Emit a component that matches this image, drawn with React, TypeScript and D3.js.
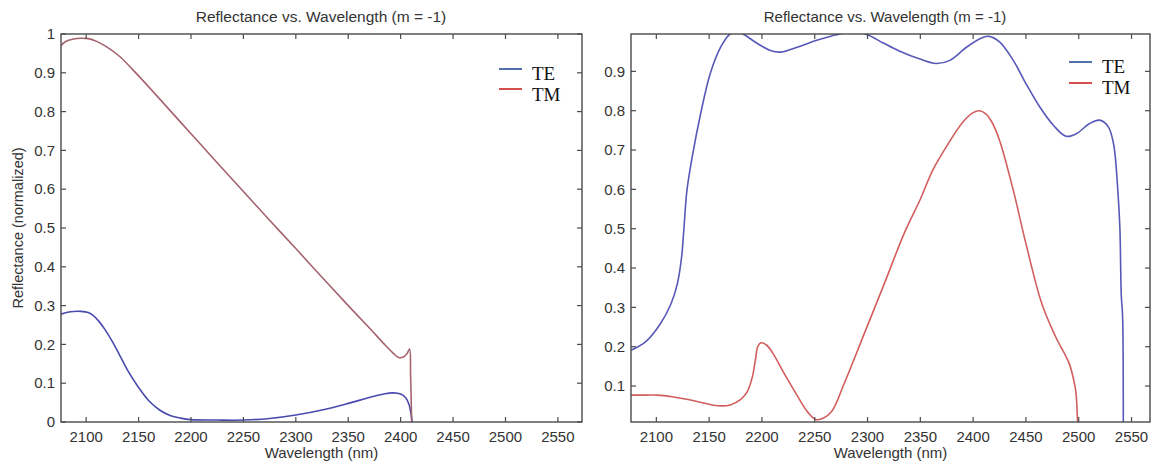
import React from "react";
import * as d3 from "d3";

// ---------- data ----------
const titleText = "Reflectance vs. Wavelength (m = -1)";
const xLabelText = "Wavelength (nm)";
const yLabelText = "Reflectance (normalized)";
const seriesNames = ["TE", "TM"];
const xTicks = [2100, 2150, 2200, 2250, 2300, 2350, 2400, 2450, 2500, 2550];
const leftYTicks = [0, 0.1, 0.2, 0.3, 0.4, 0.5, 0.6, 0.7, 0.8, 0.9, 1];
const rightYTicks = [0.1, 0.2, 0.3, 0.4, 0.5, 0.6, 0.7, 0.8, 0.9];

// Left panel
const leftTM_wl = [2076, 2080, 2088, 2095, 2102, 2110, 2120, 2132, 2150, 2175, 2200, 2225, 2250, 2275, 2300, 2325, 2350, 2370, 2385, 2393, 2398, 2403, 2406, 2408.5, 2409.5, 2410.5];
const leftTM_R = [0.970, 0.980, 0.987, 0.989, 0.988, 0.981, 0.966, 0.942, 0.892, 0.818, 0.743, 0.668, 0.594, 0.520, 0.447, 0.373, 0.300, 0.243, 0.199, 0.177, 0.166, 0.168, 0.176, 0.188, 0.12, 0.0];
const leftTE_wl = [2076, 2085, 2095, 2102, 2106, 2112, 2118, 2125, 2132, 2140, 2150, 2160, 2170, 2180, 2190, 2200, 2225, 2250, 2275, 2300, 2325, 2350, 2370, 2385, 2393, 2400, 2405, 2408, 2410, 2411];
const leftTE_R = [0.278, 0.284, 0.285, 0.282, 0.276, 0.260, 0.238, 0.207, 0.172, 0.131, 0.089, 0.054, 0.031, 0.017, 0.010, 0.006, 0.005, 0.005, 0.009, 0.018, 0.031, 0.048, 0.063, 0.073, 0.075, 0.072, 0.062, 0.045, 0.02, 0.0];

// Right panel
const rightTE_wl = [2076, 2090, 2104, 2114, 2120, 2124, 2126, 2129, 2134, 2142, 2151, 2161, 2169, 2175, 2182, 2195, 2208, 2218, 2234, 2252, 2266, 2275, 2290, 2300, 2315, 2330, 2349, 2365, 2378, 2394, 2409, 2415, 2425, 2438, 2450, 2463, 2476, 2488, 2498, 2510, 2520, 2528, 2533, 2537, 2539, 2540.3, 2541.5, 2542.2];
const rightTE_R = [0.191, 0.213, 0.259, 0.31, 0.361, 0.43, 0.496, 0.598, 0.683, 0.793, 0.894, 0.962, 0.993, 1.0, 0.995, 0.972, 0.953, 0.949, 0.962, 0.979, 0.99, 0.996, 1.0, 0.993, 0.972, 0.952, 0.932, 0.92, 0.928, 0.962, 0.986, 0.989, 0.975, 0.928, 0.869, 0.81, 0.763, 0.735, 0.742, 0.767, 0.776, 0.759, 0.716, 0.598, 0.5, 0.33, 0.28, 0.0];
const rightTM_wl = [2076, 2090, 2101, 2115, 2130, 2145, 2158, 2170, 2180, 2186, 2191, 2194, 2196, 2199, 2204, 2210, 2221, 2234, 2243, 2251, 2258, 2266, 2278, 2297, 2316, 2335, 2350, 2362, 2375, 2390, 2400, 2406, 2412, 2418, 2425, 2438, 2450, 2465, 2478, 2491, 2496, 2497.5, 2499];
const rightTM_R = [0.077, 0.077, 0.077, 0.073, 0.066, 0.057, 0.050, 0.052, 0.066, 0.085, 0.124, 0.17, 0.2, 0.21, 0.205, 0.185, 0.132, 0.073, 0.035, 0.015, 0.018, 0.035, 0.107, 0.234, 0.361, 0.49, 0.575, 0.65, 0.71, 0.77, 0.795, 0.80, 0.792, 0.77, 0.725, 0.598, 0.462, 0.31, 0.226, 0.157, 0.106, 0.08, 0.0];

// ---------- styling ----------
const W = 1152;
const H = 465;
const axisColor = "#4a4a4a";
const textColor = "#333333";
const sans = "Arial, 'Liberation Sans', sans-serif";
const serif = "'Times New Roman', 'Liberation Serif', serif";

type Panel = {
  id: string;
  x0: number; x1: number; y0: number; y1: number;
  xDomain: [number, number];
  yDomain: [number, number];
  yTicks: number[];
  yLabel: boolean;
  series: { wl: number[]; r: number[]; color: string }[];
  legendX: number; legendY: number[]; legendTextY: number[];
  titleX: number; titleSize: number;
};

const panels: Panel[] = [
  {
    id: "L",
    x0: 61, x1: 582, y0: 34, y1: 422,
    xDomain: [2076, 2573],
    yDomain: [0, 1],
    yTicks: leftYTicks,
    yLabel: true,
    series: [
      { wl: leftTE_wl, r: leftTE_R, color: "#4a4aae" },
      { wl: leftTM_wl, r: leftTM_R, color: "#a5636e" },
    ],
    legendX: 499, legendY: [69, 89], legendTextY: [80, 101],
    titleX: 321, titleSize: 15.5,
  },
  {
    id: "R",
    x0: 631, x1: 1150, y0: 34, y1: 422,
    xDomain: [2076, 2567.5],
    yDomain: [0.0086, 0.995],
    yTicks: rightYTicks,
    yLabel: false,
    series: [
      { wl: rightTE_wl, r: rightTE_R, color: "#5858b8" },
      { wl: rightTM_wl, r: rightTM_R, color: "#d25e5e" },
    ],
    legendX: 1069, legendY: [62, 83], legendTextY: [73, 94],
    titleX: 885, titleSize: 15,
  },
];

const legendColors = ["#3d62a3", "#d23a3a"];

function fmt(v: number) {
  return d3.format("~g")(v);
}

function PanelView({ p }: { p: Panel }) {
  const x = d3.scaleLinear().domain(p.xDomain).range([p.x0, p.x1]);
  const y = d3.scaleLinear().domain(p.yDomain).range([p.y1, p.y0]);
  const tickLen = 5;
  const clipId = "clip" + p.id;
  return (
    <g>
      <defs>
        <clipPath id={clipId}>
          <rect x={p.x0} y={p.y0} width={p.x1 - p.x0} height={p.y1 - p.y0} />
        </clipPath>
      </defs>
      {/* curves */}
      <g clipPath={`url(#${clipId})`}>
        {p.series.map((s, i) => {
          const pts: [number, number][] = s.wl.map((w, k) => [w, s.r[k]]);
          const line = d3
            .line<[number, number]>()
            .x((d) => x(d[0]))
            .y((d) => y(d[1]))
            .curve(d3.curveCatmullRom.alpha(0.5));
          return (
            <path key={i} d={line(pts) || ""} fill="none" stroke={s.color} strokeWidth={1.6} strokeLinejoin="round" />
          );
        })}
      </g>
      {/* box */}
      <rect x={p.x0} y={p.y0} width={p.x1 - p.x0} height={p.y1 - p.y0} fill="none" stroke={axisColor} strokeWidth={1.4} />
      {/* x ticks */}
      {xTicks.filter((t) => x(t) <= p.x1 && x(t) >= p.x0).map((t) => (
        <g key={"x" + t}>
          <line x1={x(t)} x2={x(t)} y1={p.y1} y2={p.y1 - tickLen} stroke={axisColor} strokeWidth={1.2} />
          <line x1={x(t)} x2={x(t)} y1={p.y0} y2={p.y0 + tickLen} stroke={axisColor} strokeWidth={1.2} />
          <text x={x(t)} y={p.y1 + 20} textAnchor="middle" fontFamily={sans} fontSize={15} fill={textColor}>
            {t}
          </text>
        </g>
      ))}
      {/* y ticks */}
      {p.yTicks.map((t) => (
        <g key={"y" + t}>
          <line x1={p.x0} x2={p.x0 + tickLen} y1={y(t)} y2={y(t)} stroke={axisColor} strokeWidth={1.2} />
          <line x1={p.x1} x2={p.x1 - tickLen} y1={y(t)} y2={y(t)} stroke={axisColor} strokeWidth={1.2} />
          <text x={p.x0 - 6} y={y(t)} dy="0.35em" textAnchor="end" fontFamily={sans} fontSize={15} fill={textColor}>
            {fmt(t)}
          </text>
        </g>
      ))}
      {/* title */}
      <text x={p.titleX} y={22} textAnchor="middle" fontFamily={sans} fontSize={p.titleSize} fill={textColor}>
        {titleText}
      </text>
      {/* x label */}
      <text x={(p.x0 + p.x1) / 2} y={458} textAnchor="middle" fontFamily={sans} fontSize={15} fill={textColor}>
        {xLabelText}
      </text>
      {p.yLabel && (
        <text
          transform={`translate(23, ${(p.y0 + p.y1) / 2}) rotate(-90)`}
          textAnchor="middle"
          fontFamily={sans}
          fontSize={14.5}
          fill={textColor}
        >
          {yLabelText}
        </text>
      )}
      {/* legend */}
      {seriesNames.map((n, i) => (
        <g key={n}>
          <line x1={p.legendX} x2={p.legendX + 23} y1={p.legendY[i]} y2={p.legendY[i]} stroke={legendColors[i]} strokeWidth={1.8} />
          <text x={p.legendX + 33} y={p.legendTextY[i]} fontFamily={serif} fontSize={19} fill="#111">
            {n}
          </text>
        </g>
      ))}
    </g>
  );
}

export default function App() {
  return (
    <svg
      width={W}
      height={H}
      viewBox={`0 0 ${W} ${H}`}
      style={{ position: "absolute", left: 0, top: 0, background: "#fff" }}
    >
      <rect x={0} y={0} width={W} height={H} fill="#fff" />
      {panels.map((p) => (
        <PanelView key={p.id} p={p} />
      ))}
    </svg>
  );
}
